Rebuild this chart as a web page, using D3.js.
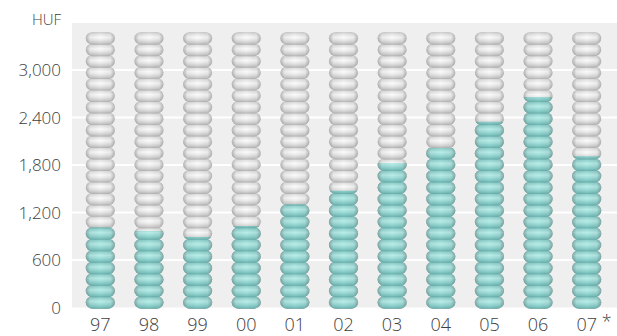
<!DOCTYPE html>
<html>
<head>
<meta charset="utf-8">
<script src="https://cdn.jsdelivr.net/npm/d3@7"></script>
<style>
  body { margin: 0; background: #fff; }
  text { font-family: "Open Sans", "Noto Sans", sans-serif; fill: #404040; font-weight: 300; }
</style>
</head>
<body>
<div id="chart"></div>
<script>
var years = ["97", "98", "99", "00", "01", "02", "03", "04", "05", "06", "07"];
var values = [1010, 965, 890, 1030, 1300, 1475, 1825, 2015, 2345, 2660, 1910];
var yTicks = [0, 600, 1200, 1800, 2400, 3000];
var stackTop = 3480;   // height of the full grey stack
var discCount = 24;

var w = 617, h = 336;
var svg = d3.select("#chart").append("svg").attr("width", w).attr("height", h);

var plotLeft = 72, plotRight = 617, plotTop = 23, plotBottom = 307.5;
var x = d3.scaleBand().domain(years).range([76, 611]).paddingInner(0.4).paddingOuter(0.2);
var y = d3.scaleLinear().domain([0, 3000]).range([plotBottom, 70]);

var defs = svg.append("defs");

function discGradient(id, stops) {
    var g = defs.append("linearGradient").attr("id", id).attr("x1", 0).attr("y1", 0).attr("x2", 0).attr("y2", 1);
    stops.forEach(function (s) {
        g.append("stop").attr("offset", s[0]).attr("stop-color", s[1]);
    });
}
discGradient("greyDisc", [[0, "#cdcdcd"], [0.18, "#e6e6e6"], [0.42, "#fbfbfb"], [0.62, "#ececec"], [0.85, "#d0d0d0"], [1, "#b4b4b4"]]);
discGradient("tealDisc", [[0, "#7cc0bc"], [0.18, "#98d6d2"], [0.42, "#b8ede9"], [0.62, "#a2dfdb"], [0.85, "#82c8c4"], [1, "#6aafab"]]);

// side shading so discs look round
var side = defs.append("linearGradient").attr("id", "side").attr("x1", 0).attr("y1", 0).attr("x2", 1).attr("y2", 0);
[[0, 0.28], [0.15, 0.06], [0.5, 0], [0.85, 0.06], [1, 0.28]].forEach(function (s) {
    side.append("stop").attr("offset", s[0]).attr("stop-color", "#000").attr("stop-opacity", s[1]);
});

// plot background and grid
svg.append("rect").attr("x", plotLeft).attr("y", plotTop)
    .attr("width", plotRight - plotLeft).attr("height", plotBottom - plotTop).attr("fill", "#efefef");

svg.append("g").selectAll("line").data(yTicks.filter(function (d) { return d > 0; })).enter().append("line")
    .attr("x1", plotLeft).attr("x2", plotRight)
    .attr("y1", function (d) { return y(d); }).attr("y2", function (d) { return y(d); })
    .attr("stroke", "#fff").attr("stroke-width", 2);

// clip paths for teal fill
years.forEach(function (yr, i) {
    defs.append("clipPath").attr("id", "clip" + i).append("rect")
        .attr("x", x(yr) - 2).attr("width", x.bandwidth() + 4)
        .attr("y", y(values[i])).attr("height", plotBottom - y(values[i]) + 2);
});

var discUnit = stackTop / discCount;
var discs = d3.range(discCount);
var discH = (y(0) - y(discUnit)) + 1.2;

function drawStack(g, yr, fill) {
    var bw = x.bandwidth();
    var sel = g.selectAll("g.disc").data(discs).enter().append("g").attr("class", "disc");
    sel.append("rect")
        .attr("x", x(yr)).attr("width", bw)
        .attr("y", function (d) { return y((d + 1) * discUnit); })
        .attr("height", discH).attr("rx", 7).attr("ry", discH / 2)
        .attr("fill", fill);
    sel.append("rect")
        .attr("x", x(yr)).attr("width", bw)
        .attr("y", function (d) { return y((d + 1) * discUnit); })
        .attr("height", discH).attr("rx", 7).attr("ry", discH / 2)
        .attr("fill", "url(#side)");
}

years.forEach(function (yr, i) {
    var col = svg.append("g");
    var grey = col.append("g");
    drawStack(grey, yr, "url(#greyDisc)");
    var teal = col.append("g").attr("clip-path", "url(#clip" + i + ")");
    drawStack(teal, yr, "url(#tealDisc)");
});

// y axis labels
svg.append("g").selectAll("text").data(yTicks).enter().append("text")
    .attr("x", 61).attr("y", function (d) { return y(d); }).attr("dy", "0.36em")
    .attr("text-anchor", "end").attr("font-size", 17)
    .text(function (d) { return d3.format(",")(d); });

svg.append("text").attr("x", 61).attr("y", 25).attr("text-anchor", "end")
    .attr("font-size", 15).text("HUF");

// x axis labels
svg.append("g").selectAll("text").data(years).enter().append("text")
    .attr("x", function (d) { return x(d) + x.bandwidth() / 2; }).attr("y", 331)
    .attr("text-anchor", "middle").attr("font-size", 18)
    .text(function (d) { return d; });

svg.append("text")
    .attr("x", x("07") + x.bandwidth() / 2 + 15).attr("y", 328)
    .attr("font-size", 18).text("*");
</script>
</body>
</html>
